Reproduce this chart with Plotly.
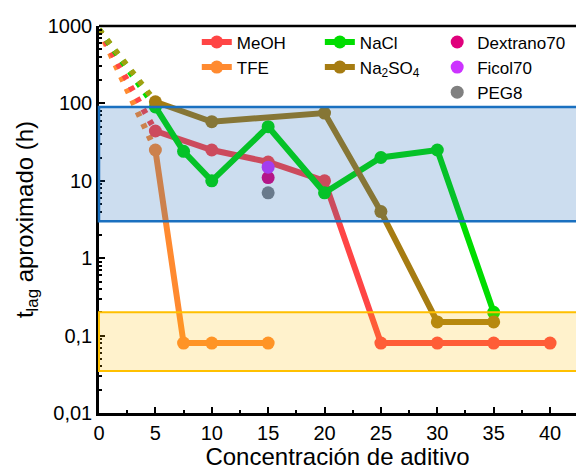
import plotly.graph_objects as go

# ---- data ----
meoh_x = [5, 10, 15, 20, 25, 30, 35, 40]
meoh_y = [44, 25, 17.5, 10, 0.08, 0.08, 0.08, 0.08]
tfe_x = [5, 7.5, 10, 15]
tfe_y = [25, 0.08, 0.08, 0.08]
nacl_x = [5, 7.5, 10, 15, 20, 25, 30, 35]
nacl_y = [90, 24, 10, 50, 7, 20, 25, 0.2]
na2so4_x = [5, 10, 20, 25, 30, 35]
na2so4_y = [105, 58, 75, 4, 0.15, 0.15]
extrap_start = 900  # dotted extrapolation towards x = 0
point_x = [15]
dextrano_y = [11]
ficol_y = [15]
peg_y = [7]

blue_band = [3, 90]
orange_band = [0.035, 0.2]

ytick_vals = [0.01, 0.1, 1, 10, 100, 1000]
ytick_text = ["0,01", "0,1", "1", "10", "100", "1000"]
xtick_vals = [0, 5, 10, 15, 20, 25, 30, 35, 40]

C_MEOH = "#ff4545"
C_TFE = "#ff8a30"
C_NACL = "#00dd00"
C_NA2SO4 = "#a67c12"
C_DEX = "#e0007c"
C_FIC = "#cc33ff"
C_PEG = "#808080"

FONT = "Liberation Sans, Arial, sans-serif"

fig = go.Figure()

# dotted extrapolations
for xs, ys, c in [(tfe_x, tfe_y, C_TFE), (meoh_x, meoh_y, C_MEOH),
                  (nacl_x, nacl_y, C_NACL), (na2so4_x, na2so4_y, "#a0a010")]:
    fig.add_trace(go.Scatter(x=[0, xs[0]], y=[extrap_start, ys[0]], mode="lines",
                             line=dict(color=c, width=6, dash="5px,8px"),
                             showlegend=False, hoverinfo="skip", cliponaxis=False))

def series(name, xs, ys, c, legend, rank):
    fig.add_trace(go.Scatter(x=xs, y=ys, name=name, mode="lines+markers",
                             line=dict(color=c, width=6),
                             marker=dict(color=c, size=13),
                             legend=legend, legendrank=rank, cliponaxis=False))

series("TFE", tfe_x, tfe_y, C_TFE, "legend", 2)
series("MeOH", meoh_x, meoh_y, C_MEOH, "legend", 1)
series("NaCl", nacl_x, nacl_y, C_NACL, "legend2", 1)
series("Na<sub>2</sub>SO<sub>4</sub>", na2so4_x, na2so4_y, C_NA2SO4, "legend2", 2)

for name, ys, c in [("Dextrano70", dextrano_y, C_DEX), ("Ficol70", ficol_y, C_FIC),
                    ("PEG8", peg_y, C_PEG)]:
    fig.add_trace(go.Scatter(x=point_x, y=ys, name=name, mode="markers",
                             marker=dict(color=c, size=13), legend="legend3"))

# bands (drawn above data, translucent)
fig.add_shape(type="rect", xref="paper", yref="y", x0=0, x1=1.01,
              y0=blue_band[0], y1=blue_band[1], layer="above",
              fillcolor="rgba(23,100,180,0.22)", line=dict(color="#1a70c0", width=2.5))
fig.add_shape(type="rect", xref="paper", yref="y", x0=0, x1=1.01,
              y0=orange_band[0], y1=orange_band[1], layer="above",
              fillcolor="rgba(255,192,0,0.2)", line=dict(color="#ffc000", width=2))

legend_common = dict(font=dict(family=FONT, size=17, color="black"),
                     bgcolor="rgba(0,0,0,0)", borderwidth=0,
                     xanchor="left", yanchor="top", y=1.004,
                     traceorder="normal", tracegroupgap=0)

fig.update_layout(
    width=576, height=470,
    margin=dict(l=99, r=0, t=26, b=57),
    paper_bgcolor="white", plot_bgcolor="white",
    font=dict(family=FONT, size=20, color="black"),
    legend=dict(x=0.205, **legend_common),
    legend2=dict(x=0.463, **legend_common),
    legend3=dict(x=0.709, **legend_common),
    xaxis=dict(range=[0, 42.3], tickvals=xtick_vals, ticks="inside", ticklen=6,
               tickwidth=2, tickcolor="black", showline=True, linecolor="black",
               linewidth=2.5, mirror=False, showgrid=False, zeroline=False,
               minor=dict(dtick=2.5, ticks="inside", ticklen=3, tickwidth=2,
                          tickcolor="black", showgrid=False),
               title=dict(text="Concentración de aditivo", font=dict(size=24), standoff=4),
               tickfont=dict(size=20)),
    yaxis=dict(type="log", range=[-2, 3], tickvals=ytick_vals, ticktext=ytick_text,
               ticks="inside", ticklen=6, tickwidth=2, tickcolor="black",
               showline=True, linecolor="black", linewidth=2.5, mirror=False,
               showgrid=False, zeroline=False,
               minor=dict(tickvals=[m * 10 ** e for e in range(-2, 3) for m in range(2, 10)],
                          ticks="inside", ticklen=3, tickwidth=1.5, tickcolor="black",
                          showgrid=False),
               title=dict(text="t<sub>lag</sub> aproximado (h)", font=dict(size=24), standoff=8),
               tickfont=dict(size=20)),
)
# top border line
fig.add_shape(type="line", xref="paper", yref="paper", x0=0, x1=1.01, y0=1, y1=1,
              line=dict(color="black", width=2.5), layer="above")

fig.write_html("out.html")
